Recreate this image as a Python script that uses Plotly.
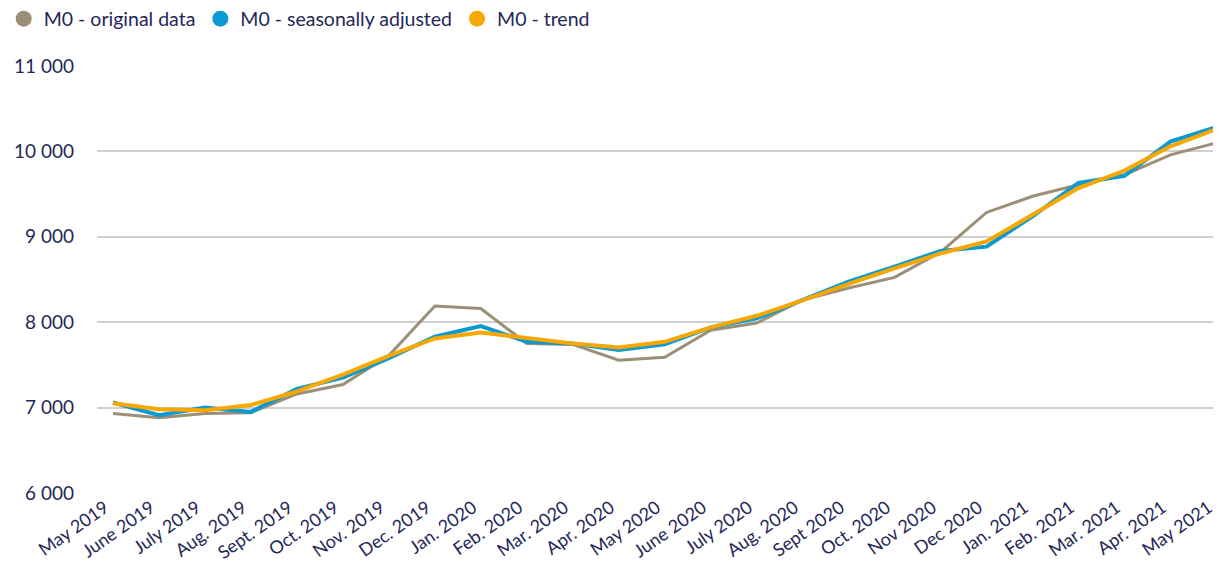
import plotly.graph_objects as go

months = ["May 2019", "June 2019", "July 2019", "Aug. 2019", "Sept. 2019", "Oct. 2019",
          "Nov. 2019", "Dec. 2019", "Jan. 2020", "Feb. 2020", "Mar. 2020", "Apr. 2020",
          "May 2020", "June 2020", "July 2020", "Aug. 2020", "Sept 2020", "Oct. 2020",
          "Nov 2020", "Dec 2020", "Jan. 2021", "Feb. 2021", "Mar. 2021", "Apr. 2021", "May 2021"]

original = [6930, 6880, 6930, 6940, 7160, 7270, 7610, 8190, 8160, 7750, 7740, 7555, 7590,
            7905, 7990, 8260, 8400, 8525, 8820, 9285, 9475, 9610, 9725, 9960, 10100]
seasonal = [7060, 6910, 7000, 6950, 7220, 7350, 7580, 7830, 7955, 7770, 7750, 7675, 7740,
            7940, 8045, 8260, 8475, 8650, 8835, 8885, 9240, 9630, 9715, 10115, 10285]
trend = [7050, 6980, 6970, 7030, 7190, 7385, 7605, 7810, 7880, 7820, 7750, 7705, 7770,
         7940, 8075, 8255, 8450, 8630, 8805, 8945, 9255, 9570, 9775, 10060, 10260]

names = ["M0 - original data", "M0 - seasonally adjusted", "M0 - trend"]
colors = ["#9c8f78", "#0a99d1", "#f6a800"]
widths = [3, 4, 4]
series = [original, seasonal, trend]

TEXT = "#1f2858"
FONT = "Lato, 'Open Sans', sans-serif"

fig = go.Figure()
idx = list(range(len(months)))
for name, col, w, vals in zip(names, colors, widths, series):
    fig.add_trace(go.Scatter(x=idx, y=vals, mode="lines", name=name,
                             line=dict(color=col, width=w), showlegend=False))
for name, col in zip(names, colors):
    fig.add_trace(go.Scatter(x=[None], y=[None], mode="markers", name=name,
                             marker=dict(color=col, size=19, symbol="circle")))

# page body has an 8px margin, so the figure is shifted by (8, 8)
fig.update_layout(
    width=1213, height=558,
    margin=dict(l=89, r=0, t=58, b=73, autoexpand=False),
    paper_bgcolor="white", plot_bgcolor="white",
    separators=". ",
    font=dict(family=FONT, color=TEXT, size=18),
    legend=dict(orientation="h", x=-0.083, xanchor="left",
                y=1.11, yanchor="middle",
                font=dict(size=19.5, color=TEXT), itemwidth=30,
                tracegroupgap=0, traceorder="normal", bgcolor="rgba(0,0,0,0)"),
    xaxis=dict(range=[-0.348, 24.1], tickmode="array", tickvals=idx, ticktext=months,
               tickangle=-35, showgrid=False, zeroline=False, showline=False,
               ticks="", tickfont=dict(size=18, color=TEXT), automargin=False,
               ticklabeloverflow="allow", ticklabelshift=-8),
    yaxis=dict(range=[6000, 11000], dtick=1000, tickformat=",d",
               showgrid=True, gridcolor="#d0d0d0", gridwidth=2, zeroline=False,
               showline=False, ticks="", ticklabelstandoff=22,
               tickfont=dict(size=19, color=TEXT), automargin=False),
)

fig.write_html("out.html")
